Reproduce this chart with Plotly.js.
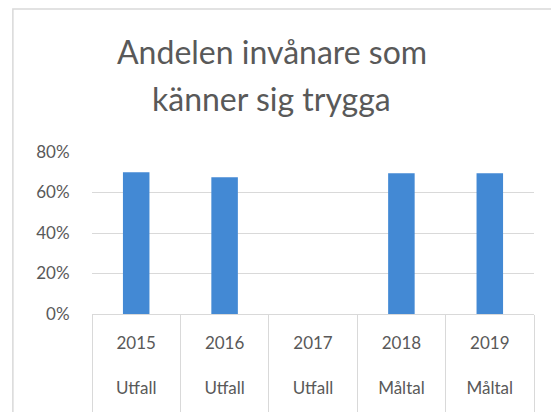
<!DOCTYPE html>
<html>
<head>
<meta charset="utf-8">
<script src="https://cdn.plot.ly/plotly-3.0.1.min.js"></script>
<style>html,body{margin:0;padding:0;background:#fff;}#chart{width:551px;height:412px;}</style>
</head>
<body>
<div id="chart"></div>
<script>
const years = ['2015', '2016', '2017', '2018', '2019'];
const statuses = ['Utfall', 'Utfall', 'Utfall', 'Måltal', 'Måltal'];
const shareSafe = [0.70, 0.675, null, 0.695, 0.695];
const titleLines = ['Andelen invånare som', 'känner sig trygga'];
const yTicks = [0, 0.2, 0.4, 0.6, 0.8];

const tickLabels = years.map((y, i) => y + '<br><br>' + statuses[i]);
const textColor = '#595959';
const gridColor = '#d9d9d9';
const fontFamily = 'Lato, Carlito, "Open Sans", sans-serif';

const trace = {
  type: 'bar',
  x: years,
  y: shareSafe,
  marker: {color: '#4389d4'},
  width: 0.3,
  hoverinfo: 'skip'
};

const layout = {
  width: 551,
  height: 412,
  margin: {l: 92, r: 17, t: 152, b: 98, pad: 0},
  paper_bgcolor: '#ffffff',
  plot_bgcolor: '#ffffff',
  showlegend: false,
  font: {family: fontFamily, color: textColor},
  xaxis: {
    type: 'category',
    tickmode: 'array',
    tickvals: years,
    ticktext: tickLabels,
    tickson: 'boundaries',
    ticks: 'outside',
    ticklen: 110,
    tickcolor: gridColor,
    tickwidth: 1,
    ticklabelstandoff: 14,
    showgrid: false,
    showline: true,
    linecolor: gridColor,
    linewidth: 1,
    tickfont: {size: 17, color: textColor, family: fontFamily},
    fixedrange: true
  },
  yaxis: {
    range: [0, 0.8],
    tickmode: 'array',
    tickvals: yTicks,
    tickformat: '.0%',
    showgrid: true,
    gridcolor: gridColor,
    gridwidth: 1,
    zeroline: false,
    showline: false,
    ticks: 'outside',
    ticklen: 18,
    tickcolor: 'rgba(0,0,0,0)',
    tickfont: {size: 17, color: textColor, family: fontFamily},
    fixedrange: true
  },
  annotations: [
    {text: titleLines[0], xref: 'paper', yref: 'paper', x: 0.407, y: 1.62, xanchor: 'center', yanchor: 'middle', showarrow: false, font: {size: 32, color: textColor, family: fontFamily}},
    {text: titleLines[1], xref: 'paper', yref: 'paper', x: 0.407, y: 1.33, xanchor: 'center', yanchor: 'middle', showarrow: false, font: {size: 32, color: textColor, family: fontFamily}}
  ],
  shapes: [
    {type: 'rect', xref: 'paper', yref: 'paper', x0: -0.179, x1: 1.5, y0: -2, y1: 1.883, line: {color: gridColor, width: 1.5}, fillcolor: 'rgba(0,0,0,0)', layer: 'below'}
  ]
};

Plotly.newPlot('chart', [trace], layout, {displayModeBar: false, staticPlot: true});
</script>
</body>
</html>
